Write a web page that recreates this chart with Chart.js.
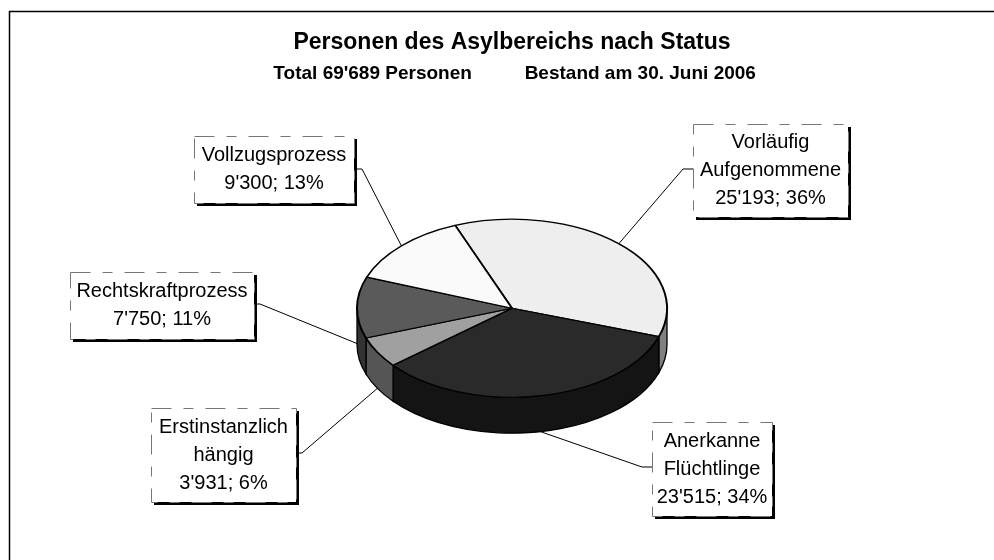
<!DOCTYPE html>
<html lang="de">
<head>
    <meta charset="UTF-8">
    <title>Personen des Asylbereichs nach Status</title>
    <script src="https://cdn.jsdelivr.net/npm/chart.js"></script>
    <style>
        html, body { margin: 0; padding: 0; background: #fff; }
        canvas { display: block; }
    </style>
</head>
<body>
    <canvas id="pieChart" width="994" height="560"></canvas>

    <script>
        // data
        const categories = ['Vorläufig Aufgenommene', 'Anerkanne Flüchtlinge', 'Erstinstanzlich hängig', 'Rechtskraftprozess', 'Vollzugsprozess'];
        const labelLines = [['Vorläufig', 'Aufgenommene'], ['Anerkanne', 'Flüchtlinge'], ['Erstinstanzlich', 'hängig'], ['Rechtskraftprozess'], ['Vollzugsprozess']];
        const values = [25193, 23515, 3931, 7750, 9300];

        // styles
        const topColors = ['#eeeeee', '#2a2a2a', '#a0a0a0', '#5a5a5a', '#fafafa'];
        const sideColors = ['#808080', '#141414', '#555555', '#333333', '#808080'];
        const FONT = '"Liberation Sans", Arial, sans-serif';
        const RADIUS_X = 155;
        const RADIUS_Y = 89;
        const DEPTH = 36;
        const ROTATION = -21.5;

        // label boxes: left, top, right, bottom, and the leader elbow
        const labelBoxes = [
            { l: 693, t: 124, r: 848, b: 217, elbowX: 683, elbowY: 169, side: 'l' },
            { l: 652, t: 422, r: 772, b: 516, elbowX: 642, elbowY: 467, side: 'l' },
            { l: 151, t: 408, r: 296, b: 502, elbowX: 302, elbowY: 453, side: 'r' },
            { l: 70, t: 272, r: 254, b: 339, elbowX: 260, elbowY: 304, side: 'r' },
            { l: 194, t: 136, r: 354, b: 203, elbowX: 362, elbowY: 169, side: 'r' }
        ];

        const total = values.reduce((a, b) => a + b, 0);
        const fmt = v => String(v).replace(/\B(?=(\d{3})+$)/g, "'");

        function drawSides(chart) {
            const ctx = chart.ctx;
            const arcs = chart.getDatasetMeta(0).data;
            ctx.save();
            ctx.strokeStyle = '#000';
            ctx.lineWidth = 1.3;
            arcs.forEach((arc, i) => {
                // only the part of the rim facing the viewer, 0..PI
                const twoPi = Math.PI * 2;
                let s = arc.startAngle, e = arc.endAngle;
                while (s < -1e-6) { s += twoPi; e += twoPi; }
                [[s, e], [s - twoPi, e - twoPi]].forEach(([a0, b0]) => {
                    const a = Math.max(a0, 0), b = Math.min(b0, Math.PI);
                    if (b <= a) return;
                    ctx.beginPath();
                    ctx.ellipse(arc.x, arc.y, RADIUS_X, RADIUS_Y, 0, a, b);
                    ctx.ellipse(arc.x, arc.y + DEPTH, RADIUS_X, RADIUS_Y, 0, b, a, true);
                    ctx.closePath();
                    ctx.fillStyle = sideColors[i];
                    ctx.fill();
                    ctx.stroke();
                });
            });
            ctx.restore();
        }

        function drawLabels(chart) {
            const ctx = chart.ctx;
            const arcs = chart.getDatasetMeta(0).data;
            ctx.save();
            arcs.forEach((arc, i) => {
                const box = labelBoxes[i];
                const mid = (arc.startAngle + arc.endAngle) / 2;
                const front = Math.sin(mid) > -0.1;
                const ax = arc.x + RADIUS_X * Math.cos(mid);
                const ay = arc.y + RADIUS_Y * Math.sin(mid) + (front ? DEPTH : 0);

                // leader, the pie is painted over its end
                ctx.beginPath();
                ctx.moveTo(box.side === 'l' ? box.l : box.r, box.elbowY);
                ctx.lineTo(box.elbowX, box.elbowY);
                ctx.lineTo(ax, ay);
                ctx.strokeStyle = '#000';
                ctx.lineWidth = 1;
                ctx.setLineDash([]);
                ctx.stroke();

                // shadow and box
                ctx.fillStyle = '#000';
                ctx.fillRect(box.l + 3, box.t + 3, box.r - box.l, box.b - box.t);
                ctx.fillStyle = '#fff';
                ctx.fillRect(box.l, box.t, box.r - box.l, box.b - box.t);
                ctx.strokeStyle = '#777';
                ctx.setLineDash([20, 12, 10, 12]);
                ctx.strokeRect(box.l + 0.5, box.t + 0.5, box.r - box.l, box.b - box.t);
                ctx.setLineDash([]);

                // text
                const pct = Math.round(values[i] / total * 100);
                const lines = labelLines[i].concat(fmt(values[i]) + '; ' + pct + '%');
                const cx = (box.l + box.r) / 2;
                const cy = (box.t + box.b) / 2;
                ctx.fillStyle = '#000';
                ctx.font = '20px ' + FONT;
                ctx.textAlign = 'center';
                ctx.textBaseline = 'middle';
                lines.forEach((line, k) => {
                    ctx.fillText(line, cx, cy + (k - (lines.length - 1) / 2) * 28);
                });
            });
            ctx.restore();
        }

        const pie3d = {
            id: 'pie3d',
            beforeDraw(chart) {
                // frame runs off the right and bottom of the picture
                const ctx = chart.ctx;
                ctx.save();
                ctx.fillStyle = '#fff';
                ctx.fillRect(0, 0, chart.width, chart.height);
                ctx.beginPath();
                ctx.moveTo(9.5, chart.height);
                ctx.lineTo(9.5, 11.5);
                ctx.lineTo(chart.width, 11.5);
                ctx.strokeStyle = '#000';
                ctx.lineWidth = 1.5;
                ctx.stroke();
                ctx.restore();
            },
            beforeDatasetsDraw(chart) {
                drawLabels(chart);
                drawSides(chart);
            },
            beforeDatasetDraw(chart) {
                // flatten the top face of the pie into an ellipse
                const arc = chart.getDatasetMeta(0).data[0];
                const ctx = chart.ctx;
                ctx.save();
                ctx.translate(arc.x, arc.y);
                ctx.scale(1, RADIUS_Y / RADIUS_X);
                ctx.translate(-arc.x, -arc.y);
            },
            afterDatasetDraw(chart) {
                chart.ctx.restore();
            }
        };

        new Chart(document.getElementById('pieChart'), {
            type: 'pie',
            data: {
                labels: categories,
                datasets: [{
                    data: values,
                    backgroundColor: topColors,
                    borderColor: '#000',
                    borderWidth: 2
                }]
            },
            options: {
                responsive: false,
                animation: false,
                events: [],
                radius: RADIUS_X,
                rotation: ROTATION,
                layout: { padding: { left: 30, top: 29, bottom: 29 } },
                plugins: {
                    legend: { display: false },
                    tooltip: { enabled: false },
                    title: {
                        display: true,
                        text: 'Personen des Asylbereichs nach Status',
                        color: '#000',
                        font: { family: FONT, size: 23, weight: 'bold' },
                        padding: { top: 0, bottom: 6 }
                    },
                    subtitle: {
                        display: true,
                        text: " Total 69'689 Personen          Bestand am 30. Juni 2006",
                        color: '#000',
                        font: { family: FONT, size: 19, weight: 'bold' },
                        padding: 0
                    }
                }
            },
            plugins: [pie3d]
        });
    </script>
</body>
</html>
